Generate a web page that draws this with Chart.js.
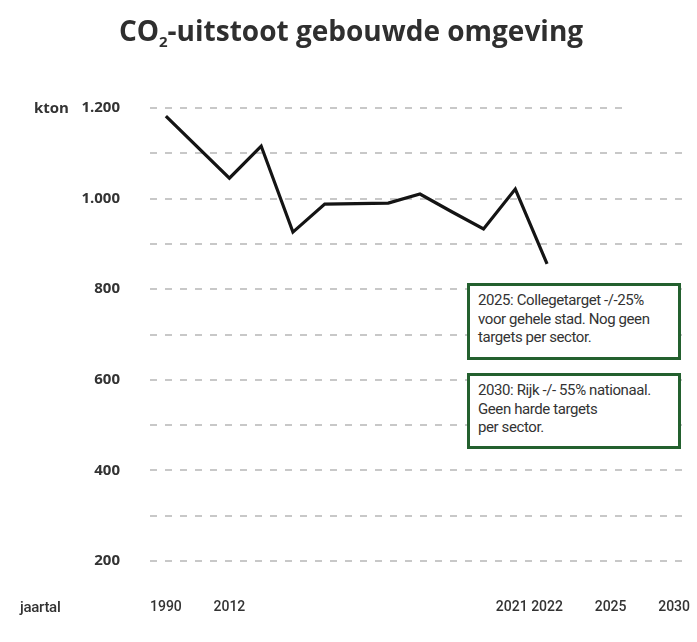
<!DOCTYPE html>
<html>
<head>
<meta charset="utf-8">
<script src="https://cdn.jsdelivr.net/npm/chart.js@4"></script>
<style>
  html, body { margin: 0; padding: 0; background: #fff; }
  #wrap { position: relative; width: 697px; height: 642px; overflow: hidden; }
  #title { position: absolute; left: 0; width: 702px; top: 11px; text-align: center;
           font-family: "Open Sans", sans-serif; font-weight: 700; font-size: 28px; color: #2f2f2f; letter-spacing: 0px; }
  #title sub { font-size: 15px; vertical-align: -6px; line-height: 0; }
  .axlab { position: absolute; color: #333; }
  #kton { left: 34px; top: 97px; font-family: "Open Sans", sans-serif; font-weight: 700; font-size: 15px; }
  #jaartal { left: 20px; top: 598px; font-family: Roboto, sans-serif; font-weight: 500; font-size: 15px; letter-spacing: -0.3px; }
  .note { position: absolute; left: 467px; width: 214px; border: 3px solid #23602e; background: #fff;
          font-family: Roboto, sans-serif; font-size: 15px; line-height: 18.5px; color: #333;
          padding: 5px 0 0 8px; box-sizing: border-box; letter-spacing: -0.4px; }
  #note1 { top: 283px; height: 77px; }
  #note2 { top: 373px; height: 76px; }
  canvas { position: absolute; left: 0; top: 0; }
</style>
</head>
<body>
<div id="wrap">
  <canvas id="c" width="697" height="642"></canvas>
  <div id="title">CO<sub>2</sub>-uitstoot gebouwde omgeving</div>
  <div id="kton" class="axlab">kton</div>
  <div id="jaartal" class="axlab">jaartal</div>
  <div id="note1" class="note">2025: Collegetarget -/-25%<br>voor gehele stad. Nog geen<br>targets per sector.</div>
  <div id="note2" class="note">2030: Rijk -/- 55% nationaal.<br>Geen harde targets<br>per sector.</div>
</div>
<script>
// Categories along the x axis (gaps keep the original spacing)
const categories = ['1990', 'gap1', '2012', '2013', '2014', '2015', '2016', '2017', '2018', '2019', '2020', '2021', '2022', 'gap2', '2025', 'gap3', '2030'];
// Tick labels that are shown
const shownLabels = ['1990', '2012', '2021', '2022', '2025', '2030'];
// CO2 emissions (kton)
const emissions = [1182, null, 1045, 1116, 926, 988, 989, 990, 1010, 971, 933, 1021, 856, null, null, null, null];
// Y axis
const yMin = 200, yMax = 1200, yStep = 100, yLabelStep = 200;

const topGridPlugin = {
  id: 'topGrid',
  beforeDatasetsDraw(chart) {
    const y = chart.scales.y.getPixelForValue(yMax);
    const ctx = chart.ctx;
    ctx.save();
    ctx.strokeStyle = '#c8c8c8';
    ctx.lineWidth = 2;
    ctx.setLineDash([7, 8]);
    ctx.beginPath();
    ctx.moveTo(chart.chartArea.left, y);
    ctx.lineTo(chart.chartArea.left + 472, y);
    ctx.stroke();
    ctx.restore();
  }
};

new Chart(document.getElementById('c'), {
  type: 'line',
  data: {
    labels: categories,
    datasets: [{
      data: emissions,
      borderColor: '#141414',
      borderWidth: 3.2,
      pointRadius: 0,
      tension: 0,
      spanGaps: true,
      borderJoinStyle: 'miter'
    }]
  },
  options: {
    responsive: false,
    animation: false,
    plugins: { legend: { display: false }, tooltip: { enabled: false } },
    layout: { padding: { top: 108, right: 7, bottom: 0, left: 0 } },
    scales: {
      x: {
        type: 'category',
        offset: true,
        grid: { display: false, drawTicks: false },
        border: { display: false },
        afterFit(s) { s.height = 81; s.paddingLeft = 0; s.paddingRight = 0; },
        ticks: {
          padding: 38,
          autoSkip: false,
          maxRotation: 0,
          color: '#333',
          font: { family: 'Roboto', size: 14, weight: '500' },
          callback(v) {
            const l = this.getLabelForValue(v);
            if (!shownLabels.includes(l)) return '';
            return l === '2021' ? l + '\u2002' : l;
          }
        }
      },
      y: {
        min: yMin,
        max: yMax,
        border: { display: false, dash: [7, 8] },
        afterFit(s) { s.width = 150; },
        grid: {
          drawTicks: false,
          lineWidth: 2,
          color: (c) => c.tick && c.tick.value === yMax ? 'rgba(0,0,0,0)' : '#c8c8c8'
        },
        ticks: {
          stepSize: yStep,
          padding: 30,
          color: '#333',
          font: { family: 'Open Sans', size: 15, weight: '700' },
          callback(v) {
            return v % yLabelStep === 0 ? v.toLocaleString('nl-NL') : '';
          }
        }
      }
    }
  },
  plugins: [topGridPlugin]
});
</script>
</body>
</html>
